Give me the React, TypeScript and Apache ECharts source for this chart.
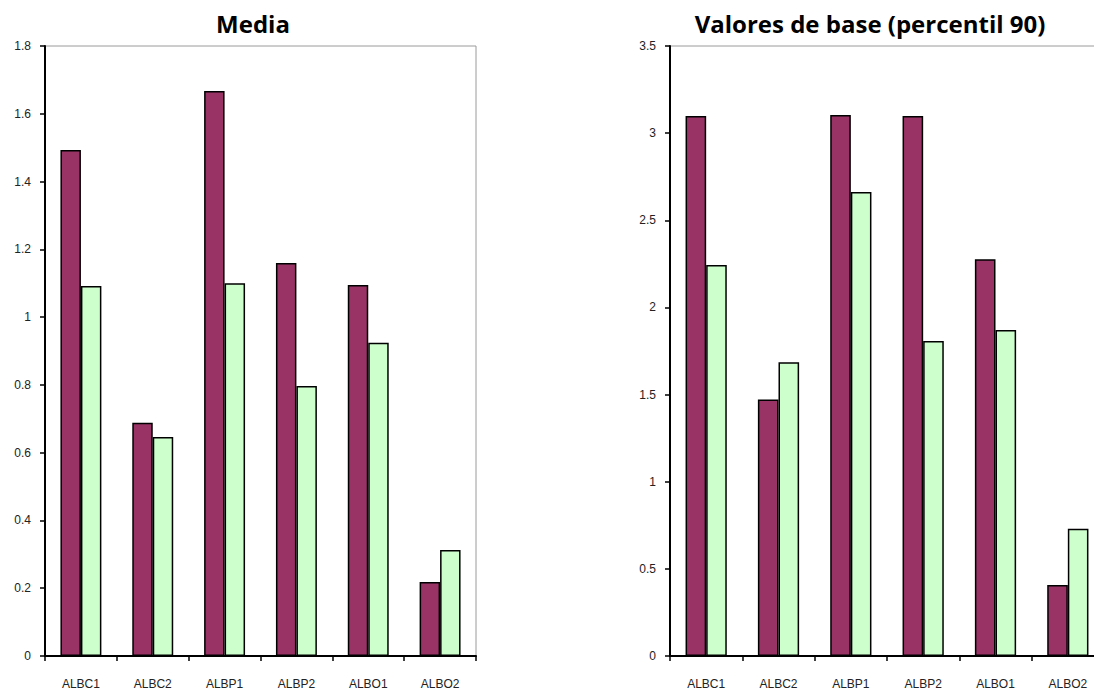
import React, { useEffect, useRef } from "react";
import * as echarts from "echarts";

const categories = ["ALBC1", "ALBC2", "ALBP1", "ALBP2", "ALBO1", "ALBO2"];
const mediaA = [1.493, 0.688, 1.667, 1.16, 1.095, 0.218];
const mediaB = [1.092, 0.646, 1.1, 0.797, 0.924, 0.313];
const baseA = [3.098, 1.472, 3.104, 3.098, 2.276, 0.407];
const baseB = [2.243, 1.685, 2.662, 1.807, 1.87, 0.73];
const titles = ["Media", "Valores de base (percentil 90)"];
const COLOR_A = "#993366";
const COLOR_B = "#CCFFCC";

export default function App() {
  const ref = useRef<HTMLDivElement>(null);
  useEffect(() => {
    if (!ref.current) return;
    const chart = echarts.init(ref.current, null, { renderer: "svg" });
    const grids = [
      { left: 45, top: 46, width: 431, height: 610 },
      { left: 670, top: 46, width: 434, height: 610 },
    ];
    const yDefs = [
      { max: 1.8, interval: 0.2 },
      { max: 3.5, interval: 0.5 },
    ];
    const labelStyle = { fontFamily: "Liberation Sans, Arial", fontSize: 12, color: "#222" };
    const barStyle = (c: string) => ({ color: c, borderColor: "#000", borderWidth: 1.5 });
    chart.setOption({
      animation: false,
      backgroundColor: "#fff",
      title: [
        { text: titles[0], left: 248, top: 6, textAlign: "center" },
        { text: titles[1], left: 865, top: 6, textAlign: "center" },
      ].map((t) => ({
        ...t,
        textStyle: { fontFamily: "Open Sans", fontWeight: "bold", fontSize: 24, color: "#000" },
      })),
      grid: grids.map((g) => ({
        ...g,
        outerBoundsMode: "none",
        containLabel: false,
        show: true,
        borderColor: "#9a9a9a",
        borderWidth: 1,
        backgroundColor: "transparent",
      })),
      xAxis: grids.map((_, i) => ({
        type: "category",
        gridIndex: i,
        data: categories,
        axisLine: { lineStyle: { color: "#000", width: 2 } },
        axisTick: { show: true, length: 5, lineStyle: { color: "#000", width: 1.5 } },
        axisLabel: { ...labelStyle, margin: 22 },
      })),
      yAxis: yDefs.map((d, i) => ({
        type: "value",
        gridIndex: i,
        min: 0,
        max: d.max,
        interval: d.interval,
        splitLine: { show: false },
        axisLine: { show: true, lineStyle: { color: "#000", width: 2 } },
        axisTick: { show: true, length: 5, lineStyle: { color: "#000", width: 1.5 } },
        axisLabel: { ...labelStyle, margin: 14 },
      })),
      series: [
        { data: mediaA, c: COLOR_A, i: 0 },
        { data: mediaB, c: COLOR_B, i: 0 },
        { data: baseA, c: COLOR_A, i: 1 },
        { data: baseB, c: COLOR_B, i: 1 },
      ].map((s) => ({
        type: "bar",
        data: s.data,
        xAxisIndex: s.i,
        yAxisIndex: s.i,
        barGap: "0%",
        barCategoryGap: "43%",
        itemStyle: barStyle(s.c),
      })),
    });
    return () => chart.dispose();
  }, []);
  return (
    <div
      ref={ref}
      style={{ position: "fixed", left: 0, top: 0, width: 1094, height: 691, background: "#fff" }}
    />
  );
}
